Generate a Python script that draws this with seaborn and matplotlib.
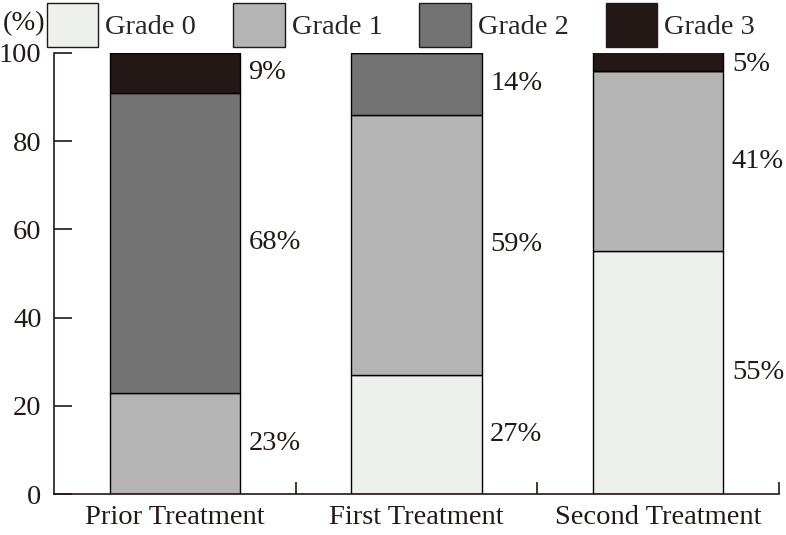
import matplotlib
matplotlib.use("Agg")
import matplotlib.pyplot as plt
import matplotlib.patches as mpatches
import seaborn as sns
import numpy as np

categories = ["Prior Treatment", "First Treatment", "Second Treatment"]
grades = ["Grade 0", "Grade 1", "Grade 2", "Grade 3"]
grade0 = [0, 27, 55]
grade1 = [23, 59, 41]
grade2 = [68, 14, 0]
grade3 = [9, 0, 5]
yticks = [0, 20, 40, 60, 80, 100]
colors = ["#eef0ee", "#b4b4b4", "#737373", "#231815"]

sns.set_theme(style="white")
plt.rcParams["font.family"] = ["Liberation Serif", "DejaVu Serif"]
FS = 20.5

fig = plt.figure(figsize=(7.86, 5.35), dpi=100)
ax = fig.add_axes([54/786, 41/535, (779-54)/786, (494-53)/535])

series = [grade0, grade1, grade2, grade3]
bottom = np.zeros(len(categories))
for vals, col in zip(series, colors):
    sns.barplot(x=categories, y=vals, bottom=bottom, color=col, width=0.54,
                edgecolor="black", linewidth=1.0, ax=ax, saturation=1)
    for i, v in enumerate(vals):
        if v > 0:
            mid = bottom[i] + v / 2
            if mid > 97:
                mid = 97.5
            ax.text(i + 0.305, mid, f"{v}%", fontsize=FS, va="center", ha="left",
                    color="#231815")
    bottom = bottom + np.array(vals)

ax.set_xlim(-0.5, 2.5)
ax.set_ylim(0, 100)
ax.set_yticks(yticks)
ax.set_yticklabels([str(t) for t in yticks], fontsize=FS)
ax.set_xticks(range(len(categories)))
ax.set_xticklabels(categories, fontsize=FS)
ax.set_xticks([0.5, 1.5, 2.5], minor=True)
ax.tick_params(axis="x", which="major", length=0, pad=8, colors="#231815")
ax.tick_params(axis="x", which="minor", direction="in", length=9, width=1.2,
               color="#231815", bottom=True)
ax.tick_params(axis="y", direction="in", length=13, width=1.2, pad=9,
               color="#231815", left=True, labelcolor="#231815")
ax.set_xlabel("")
ax.set_ylabel("")
for s in ["top", "right"]:
    ax.spines[s].set_visible(False)
for s in ["left", "bottom"]:
    ax.spines[s].set_color("#231815")
    ax.spines[s].set_linewidth(1.2)

fig.text(3/786, 1 - 24/535, "(%)", fontsize=FS, va="center", ha="left",
         color="#231815")
handles = [mpatches.Patch(facecolor=c, edgecolor="#231815", linewidth=1.0)
           for c in colors]
fig.legend(handles, grades, loc="upper left", bbox_to_anchor=(47/786, 1 - 3/535),
           ncol=4, frameon=False, fontsize=FS, handlelength=1.8, handleheight=2.0,
           handletextpad=0.25, columnspacing=1.3, borderpad=0, borderaxespad=0)

fig.savefig("out.png", dpi=100)
